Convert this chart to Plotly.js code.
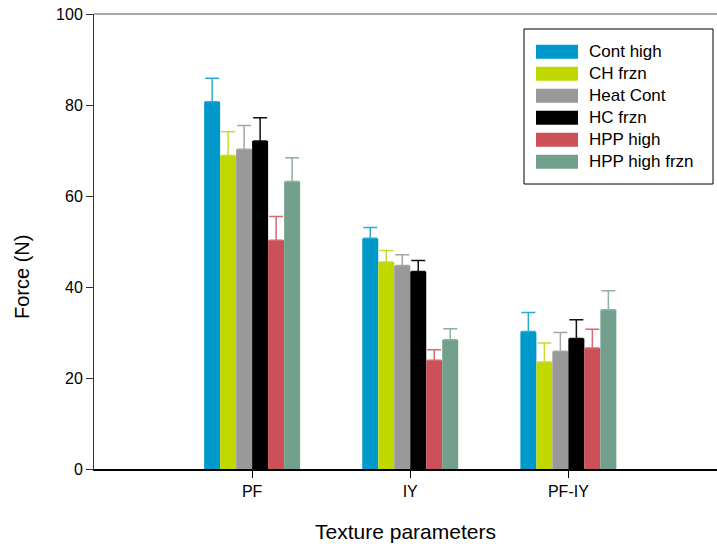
<!DOCTYPE html>
<html>
<head>
<meta charset="utf-8">
<script src="https://cdn.plot.ly/plotly-3.0.1.min.js"></script>
<style>html,body{margin:0;padding:0;background:#fff;}#chart{width:717px;height:546px;}</style>
</head>
<body>
<div id="chart"></div>
<script>
// Data
var categories = ["PF", "IY", "PF-IY"];
var seriesNames = ["Cont high", "CH frzn", "Heat Cont", "HC frzn", "HPP high", "HPP high frzn"];
var contHigh    = [80.7, 50.7, 30.2];
var chFrzn      = [68.9, 45.5, 23.5];
var heatCont    = [70.3, 44.7, 25.9];
var hcFrzn      = [72.1, 43.4, 28.7];
var hppHigh     = [50.3, 23.9, 26.6];
var hppHighFrzn = [63.2, 28.4, 35.0];
var errContHigh    = [5.2, 2.4, 4.2];
var errChFrzn      = [5.2, 2.5, 4.2];
var errHeatCont    = [5.2, 2.4, 4.1];
var errHcFrzn      = [5.1, 2.4, 4.1];
var errHppHigh     = [5.2, 2.3, 4.1];
var errHppHighFrzn = [5.2, 2.4, 4.2];
var yTickVals = [0, 20, 40, 60, 80, 100];
var xTitle = "Texture parameters";
var yTitle = "Force (N)";

var values = [contHigh, chFrzn, heatCont, hcFrzn, hppHigh, hppHighFrzn];
var errors = [errContHigh, errChFrzn, errHeatCont, errHcFrzn, errHppHigh, errHppHighFrzn];
var barColors = ["#0099CC", "#C0D800", "#999999", "#000000", "#CC5058", "#73A08C"];
var errColors = ["#2AAAD5", "#C8DC30", "#A6A6A6", "#111111", "#D46A72", "#8DB0A0"];

var FONT = "Liberation Sans, Arial, Helvetica, sans-serif";
var traces = values.map(function (v, i) {
  return {
    type: "bar",
    name: seriesNames[i],
    x: categories,
    y: v,
    marker: {color: barColors[i], line: {width: 0}},
    error_y: {type: "data", array: errors[i], arrayminus: v.map(function(){return 0;}), symmetric: false,
              color: errColors[i], thickness: 1.5, width: 7},
    showlegend: false,
    hoverinfo: "none"
  };
});

// plot area in pixels
var L = 94, R = 717, T = 14, B = 469;
function px(x) { return (x - L) / (R - L); }
function py(y) { return (B - y) / (B - T); }

var shapes = [
  {type: "line", xref: "paper", yref: "paper", x0: 0, x1: 1, y0: 1, y1: 1, line: {color: "#555555", width: 1}},
  {type: "rect", xref: "paper", yref: "paper", x0: px(524), x1: px(713), y0: py(29), y1: py(184),
   line: {color: "#000000", width: 1}, fillcolor: "rgba(0,0,0,0)"}
];
var annotations = [];
seriesNames.forEach(function (n, i) {
  var cy = 51.7 + 22 * i;
  shapes.push({type: "rect", xref: "paper", yref: "paper", x0: px(536), x1: px(578), y0: py(cy - 7), y1: py(cy + 7),
               line: {width: 0}, fillcolor: barColors[i]});
  annotations.push({xref: "paper", yref: "paper", x: px(587), y: py(cy), xanchor: "left", yanchor: "middle",
                    text: n, showarrow: false, font: {family: FONT, size: 17, color: "#000"}});
});
// y-axis title (placed as in reference, below the plot's middle)
annotations.push({xref: "paper", yref: "paper", x: px(22), y: py(277), xanchor: "center", yanchor: "middle",
                  textangle: -90, text: yTitle, showarrow: false, font: {family: FONT, size: 20, color: "#000"}});

var layout = {
  width: 717, height: 546,
  margin: {l: L, r: 717 - R, t: T, b: 546 - B, pad: 0},
  paper_bgcolor: "#fff", plot_bgcolor: "#fff",
  barmode: "group", bargap: 0.393, bargroupgap: 0,
  font: {family: FONT, color: "#000"},
  showlegend: false,
  xaxis: {
    type: "category", range: [-1, 2.94], showgrid: false, zeroline: false,
    showline: true, linecolor: "#000", linewidth: 2,
    ticks: "outside", ticklen: 7, tickcolor: "#000", tickwidth: 1,
    tickfont: {family: FONT, size: 16, color: "#000"},
    title: {text: xTitle, font: {family: FONT, size: 21, color: "#000"}, standoff: 25}
  },
  yaxis: {
    range: [0, 100], tickvals: yTickVals, ticktext: yTickVals.map(String),
    showgrid: false, zeroline: false,
    showline: true, linecolor: "#333", linewidth: 1,
    ticks: "outside", ticklen: 7, tickcolor: "#333", tickwidth: 1,
    tickfont: {family: FONT, size: 16, color: "#000"}
  },
  shapes: shapes,
  annotations: annotations
};

Plotly.newPlot("chart", traces, layout, {displayModeBar: false, staticPlot: true});
</script>
</body>
</html>
